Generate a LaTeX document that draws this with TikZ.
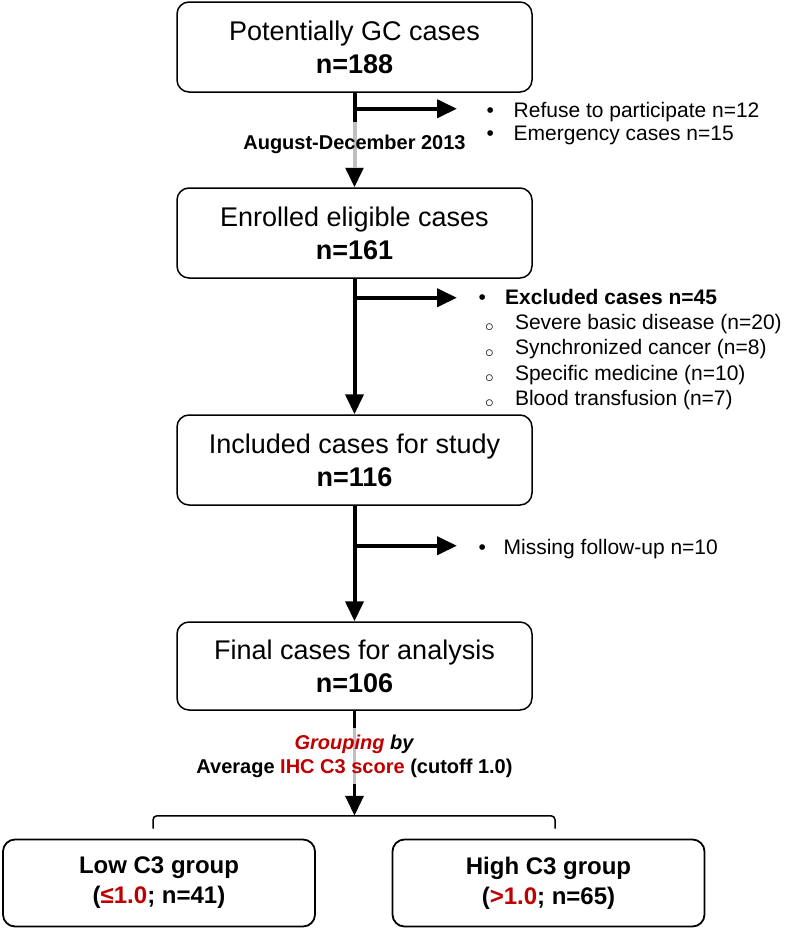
\documentclass[tikz,border=0pt]{standalone}
\usepackage{fontspec}
\setmainfont{Liberation Sans}
\usetikzlibrary{arrows.meta,positioning,calc}
\definecolor{grpred}{RGB}{192,0,0}
\newcommand{\bul}[1]{\makebox[#1][l]{•}}
\newcommand{\subbul}{\hspace{6.5pt}\makebox[30pt][l]{\raisebox{-2.5pt}{\fontsize{17}{17}\selectfont$\circ$}}}

\begin{document}
\begin{tikzpicture}[x=1pt,y=-1pt,
  box/.style={draw,line width=1.5pt,rounded corners=12pt,minimum width=355pt,minimum height=90pt,align=center,font=\fontsize{27}{33}\selectfont},
  grpbox/.style={draw,line width=1.8pt,rounded corners=12pt,minimum width=312pt,minimum height=87pt,align=center,font=\bfseries\fontsize{24}{30}\selectfont},
  flow/.style={line width=4pt,-{Triangle[length=20pt,width=18pt]}},
  side/.style={anchor=north west,inner sep=0pt,align=left,font=\fontsize{21}{23}\selectfont},
  lbl/.style={fill=white,fill opacity=0.75,text opacity=1,align=center,inner xsep=2pt,font=\bfseries\fontsize{20}{24}\selectfont}]
  \useasboundingbox (0,0) rectangle (787,930);

  \node[box] (pot) at (354.5,47) {Potentially GC cases\\\textbf{n=188}};
  \node[box] (enr) at (354.5,233) {Enrolled eligible cases\\\textbf{n=161}};
  \node[box] (inc) at (354.5,460) {Included cases for study\\\textbf{n=116}};
  \node[box,minimum height=88pt] (fin) at (354.5,666) {Final cases for analysis\\\textbf{n=106}};
  \node[grpbox] (low) at (159,883) {Low C3 group\\(\textcolor{grpred}{≤1.0}; n=41)};
  \node[grpbox] (high) at (548.5,883) {High C3 group\\(\textcolor{grpred}{>1.0}; n=65)};

  \coordinate (j1) at ($(pot.south)+(0,16)$);
  \coordinate (t1) at ($(j1)+(102.5,0)$);
  \coordinate (j2) at ($(enr.south)+(0,19)$);
  \coordinate (t2) at ($(j2)+(102.5,0)$);
  \coordinate (j3) at ($(inc.south)+(0,40)$);
  \coordinate (t3) at ($(j3)+(102.5,0)$);
  \coordinate (split) at ($(fin.south)+(0,105)$);

  \draw[flow] (pot) -- node[lbl,inner ysep=13.5pt,pos=0.55] {August-December 2013} (enr);
  \draw[flow] (enr) -- (inc);
  \draw[flow] (inc) -- (fin);
  \draw[flow] (j1) -- (t1);
  \draw[flow] (j2) -- (t2);
  \draw[flow] (j3) -- (t3);
  \draw[flow,line width=3.5pt] (fin) -- node[lbl,inner ysep=7pt,pos=0.43]
    {\textcolor{grpred}{\itshape Grouping} \textit{by}\\Average \textcolor{grpred}{IHC C3 score} (cutoff 1.0)} (split);
  \draw[line width=1.5pt,rounded corners=4pt] ([xshift=-6pt,yshift=10pt]low.north) |- (split) -| ([xshift=6.5pt,yshift=10pt]high.north);

  \node[side] (refuse) at ($(t1)+(29.3,-7)$) {\bul{27.2pt}Refuse to participate n=12\\\bul{27.2pt}Emergency cases n=15};
  \node[side,font=\fontsize{21}{25.3}\selectfont] (excl) at ($(t2)+(21.3,-9)$)
    {\bul{26.7pt}\textbf{Excluded cases n=45}\\\subbul Severe basic disease (n=20)\\\subbul Synchronized cancer (n=8)\\\subbul Specific medicine (n=10)\\\subbul Blood transfusion (n=7)};
  \node[side] (miss) at ($(t3)+(21.3,-7)$) {\bul{25.2pt}Missing follow-up n=10};
\end{tikzpicture}
\end{document}
